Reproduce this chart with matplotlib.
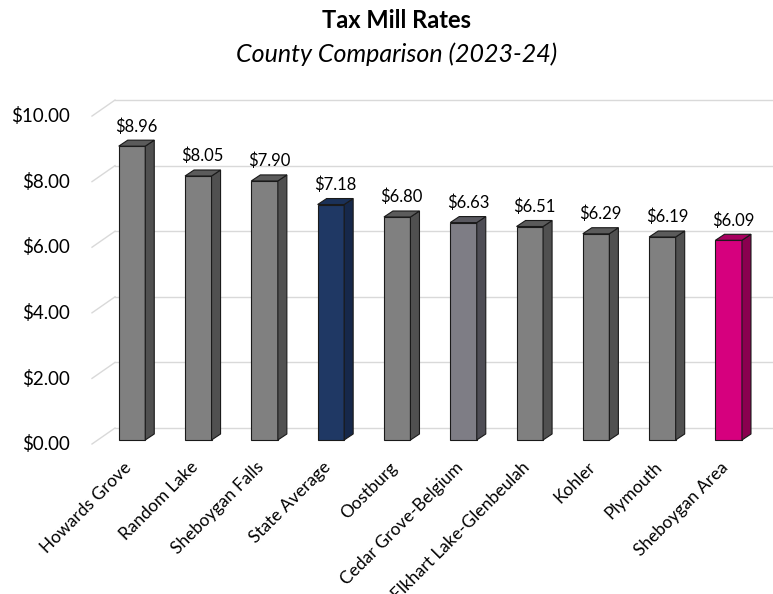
import matplotlib.pyplot as plt
from matplotlib.patches import Polygon

plt.rcParams['font.family'] = ['Lato', 'DejaVu Sans']

# Mill rates per district
districts = ['Howards Grove', 'Random Lake', 'Sheboygan Falls', 'State Average', 'Oostburg',
             'Cedar Grove-Belgium', 'Elkhart Lake-Glenbeulah', 'Kohler', 'Plymouth', 'Sheboygan Area']
rates = [8.96, 8.05, 7.90, 7.18, 6.80, 6.63, 6.51, 6.29, 6.19, 6.09]
y_ticks = [0, 2, 4, 6, 8, 10]

# front / side / top shades for each bar
gray = ('#808080', '#505050', '#5b5b5b')
slate = ('#7e7d85', '#4e4d55', '#5a5960')
navy = ('#1f3864', '#16284a', '#1b3158')
pink = ('#d6007e', '#8a004f', '#a8005f')
shades = [gray, gray, gray, navy, gray, slate, gray, gray, gray, pink]

fig = plt.figure(figsize=(7.73, 5.94), dpi=100)
ax = fig.add_axes([92 / 773, (594 - 448) / 594, 681 / 773, 353 / 594])
x_lo, x_hi = -0.603, 9.668
ax.set_xlim(x_lo, x_hi)
ax.set_ylim(-0.244, 10.52)
ax.axis('off')

# back wall gridlines with the diagonal running to the front edge
wall_dx, wall_dy = 0.347, 0.366
for v in y_ticks:
    ax.plot([x_lo, x_lo + wall_dx], [v - 0.122, v + wall_dy], color='#d9d9d9', lw=1, zorder=1, clip_on=False)
    ax.plot([x_lo + wall_dx, x_hi], [v + wall_dy, v + wall_dy], color='#d9d9d9', lw=1, zorder=1, clip_on=False)
    ax.text(-0.033, v - 0.13, '${:.2f}'.format(v), transform=ax.get_yaxis_transform(),
            ha='right', va='center', fontsize=13.5, color='black')

# bars with a shallow box depth
w = 0.4
dx, dy = 0.136, 0.183
for i, (val, (front, side, top)) in enumerate(zip(rates, shades)):
    ax.bar(i, val, width=w, color=front, edgecolor='#1a1a1a', linewidth=0.8, zorder=3)
    l, r = i - w / 2, i + w / 2
    ax.add_patch(Polygon([(r, 0), (r + dx, dy), (r + dx, val + dy), (r, val)],
                         closed=True, facecolor=side, edgecolor='#1a1a1a', lw=0.8, zorder=3))
    ax.add_patch(Polygon([(l, val), (r, val), (r + dx, val + dy), (l + dx, val + dy)],
                         closed=True, facecolor=top, edgecolor='#1a1a1a', lw=0.8, zorder=3))
    ax.text(i + dx / 2, val + dy + 0.17, '${:.2f}'.format(val), ha='center', va='bottom',
            fontsize=12, color='black')
    ax.text(i - 0.13, -0.58, districts[i], rotation=45, rotation_mode='anchor',
            ha='right', va='top', fontsize=12.5, color='black', clip_on=False)

fig.text(0.513, 0.966, 'Tax Mill Rates', ha='center', va='center', fontsize=17, fontweight='bold')
fig.text(0.513, 0.909, 'County Comparison (2023-24)', ha='center', va='center', fontsize=18, style='italic')

fig.savefig('out.png', dpi=100)
